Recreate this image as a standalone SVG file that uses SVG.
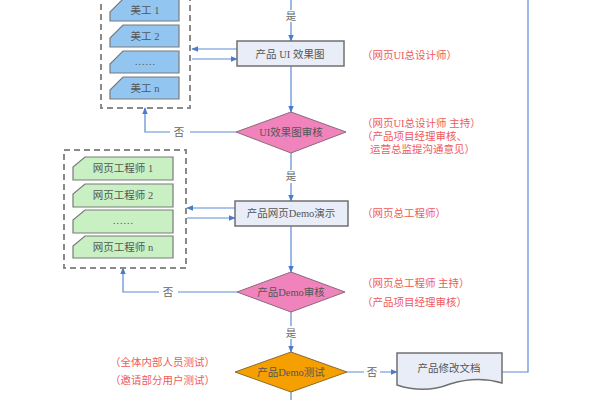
<svg xmlns="http://www.w3.org/2000/svg" width="600" height="400" viewBox="0 0 600 400">
<style>
text{font-family:"Liberation Serif","Noto Sans CJK SC",serif;font-size:10.5px;fill:#555;text-anchor:middle;dominant-baseline:central}
.red{fill:#f05a5a;text-anchor:start;font-size:10.5px}
.box{fill:#e9edf7;stroke:#707070;stroke-width:1.5}
.blue{fill:#92c5f0;stroke:#7a7a7a;stroke-width:1.2}
.green{fill:#c9f0c3;stroke:#7a7a7a;stroke-width:1.2}
.pink{fill:#f083bc;stroke:#8a6a7a;stroke-width:1}
.orange{fill:#f5a000;stroke:#8a6a30;stroke-width:1}
.dash{fill:none;stroke:#8a8a8a;stroke-width:2;stroke-dasharray:6 4}
.c{fill:none;stroke:#5b8bd4;stroke-width:1.2}
.lbl{fill:#666}
</style>
<defs>
<marker id="a" viewBox="0 0 10 10" refX="9" refY="5" markerWidth="7" markerHeight="7" orient="auto" markerUnits="userSpaceOnUse">
<path d="M0,1 L10,5 L0,9 Z" fill="#4a7ccc"/>
</marker>
</defs>
<rect width="600" height="400" fill="#fff"/>

<g id="connectors">
<path class="c" d="M291,0 V10"/>
<path class="c" d="M291,22 V41" marker-end="url(#a)"/>
<path class="c" d="M237,49 H192" marker-end="url(#a)"/>
<path class="c" d="M192,59 H237" marker-end="url(#a)"/>
<path class="c" d="M291,66 V112" marker-end="url(#a)"/>
<path class="c" d="M236,132 H190 M170,132 H145 V108" marker-end="url(#a)"/>
<path class="c" d="M291,153 V170"/>
<path class="c" d="M291,183 V201" marker-end="url(#a)"/>
<path class="c" d="M235,208 H187" marker-end="url(#a)"/>
<path class="c" d="M187,218 H235" marker-end="url(#a)"/>
<path class="c" d="M291,226 V272" marker-end="url(#a)"/>
<path class="c" d="M237,292 H178 M159,292 H123 V268" marker-end="url(#a)"/>
<path class="c" d="M291,312 V326"/>
<path class="c" d="M291,339 V352" marker-end="url(#a)"/>
<path class="c" d="M291,392 V400"/>
<path class="c" d="M347,372 H364 M380,372 H397" marker-end="url(#a)"/>
<path class="c" d="M502,372 H528 V0"/>
<text class="lbl" x="291" y="16">是</text>
<text class="lbl" x="179" y="132">否</text>
<text class="lbl" x="291" y="176">是</text>
<text class="lbl" x="168" y="292">否</text>
<text class="lbl" x="291" y="333">是</text>
<text class="lbl" x="372" y="372">否</text>
</g>

<g id="group-meigong">
<rect class="dash" x="101" y="-6" width="89" height="114"/>
<g id="mg1"><path class="blue" d="M123,-1 H179 V21 H110 V12 Z"/><text x="145" y="10">美工 1</text></g>
<g id="mg2"><path class="blue" d="M123,25 H179 V47 H110 V38 Z"/><text x="145" y="36">美工 2</text></g>
<g id="mg3"><path class="blue" d="M123,51 H179 V73 H110 V64 Z"/><text x="145" y="61">……</text></g>
<g id="mg4"><path class="blue" d="M123,77 H179 V99 H110 V90 Z"/><text x="145" y="88">美工 n</text></g>
</g>

<g id="box-ui"><rect class="box" x="237" y="41" width="107" height="25"/><text x="290" y="54">产品 UI 效果图</text></g>
<g id="dia-ui"><path class="pink" d="M291,112 L346,132 L291,153 L236,132 Z"/><text x="291" y="132">UI效果图审核</text></g>

<g id="group-eng">
<rect class="dash" x="64" y="150" width="122" height="118"/>
<g id="e1"><path class="green" d="M85,157 H173 V180 H73 V167 Z"/><text x="123" y="168">网页工程师 1</text></g>
<g id="e2"><path class="green" d="M85,184 H173 V207 H73 V194 Z"/><text x="123" y="195">网页工程师 2</text></g>
<g id="e3"><path class="green" d="M85,210 H173 V233 H73 V220 Z"/><text x="123" y="220">……</text></g>
<g id="e4"><path class="green" d="M85,236 H173 V258 H73 V246 Z"/><text x="123" y="247">网页工程师 n</text></g>
</g>

<g id="box-demo"><rect class="box" x="235" y="201" width="113" height="25"/><text x="291" y="213">产品网页Demo演示</text></g>
<g id="dia-demo"><path class="pink" d="M291,272 L345,292 L291,312 L237,292 Z"/><text x="291" y="292">产品Demo审核</text></g>
<g id="dia-test"><path class="orange" d="M291,352 L347,372 L291,392 L235,372 Z"/><text x="291" y="372">产品Demo测试</text></g>
<g id="doc"><path class="box" d="M397,353 H502 V383 C482,377 466,379 450,384 C430,392 412,390 397,385 Z"/><text x="449" y="368">产品修改文档</text></g>

<g id="notes">
<text class="red" x="362" y="55">（网页UI总设计师）</text>
<text class="red" x="362" y="123">（网页UI总设计师 主持）</text>
<text class="red" x="362" y="136">（产品项目经理审核、</text>
<text class="red" x="370" y="149">运营总监提沟通意见）</text>
<text class="red" x="362" y="213">（网页总工程师）</text>
<text class="red" x="362" y="283">（网页总工程师 主持）</text>
<text class="red" x="362" y="302">（产品项目经理审核）</text>
<text class="red" x="110" y="362">（全体内部人员测试）</text>
<text class="red" x="110" y="380">（邀请部分用户测试）</text>
</g>
</svg>
